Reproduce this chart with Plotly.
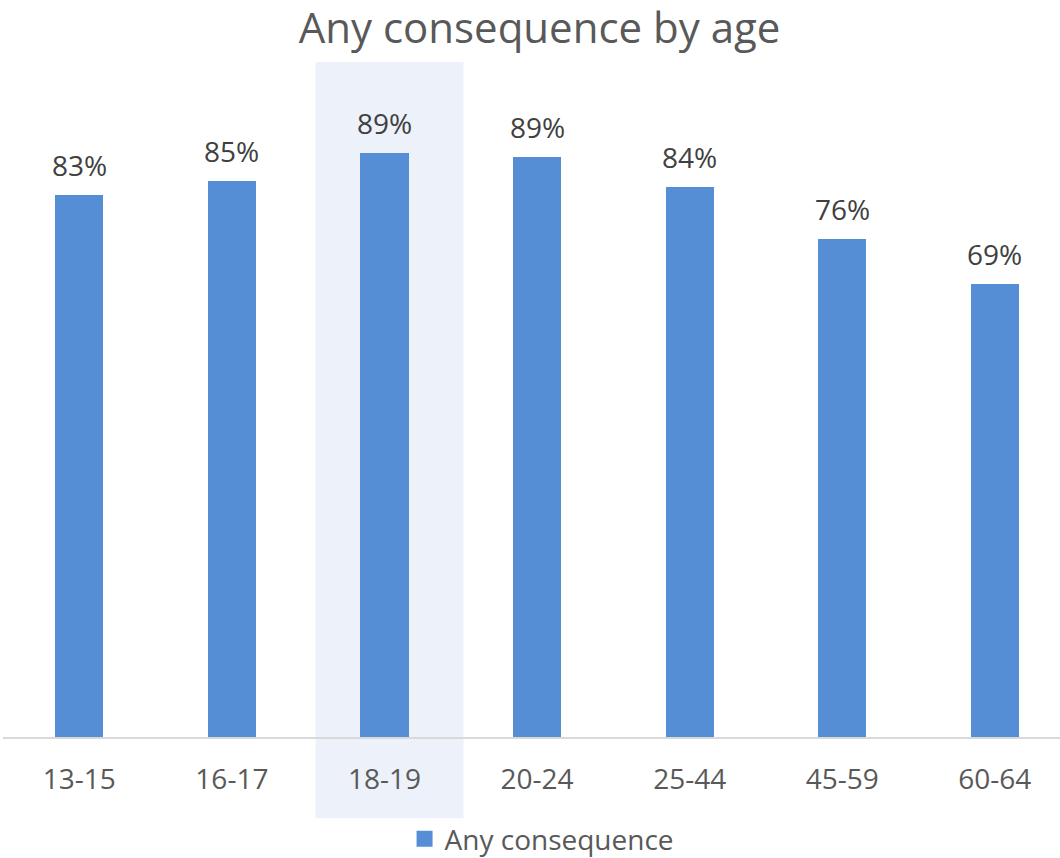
import plotly.graph_objects as go

# Share of respondents reporting any consequence, by age group
age_groups = ["13-15", "16-17", "18-19", "20-24", "25-44", "45-59", "60-64"]
any_consequence = [0.827, 0.849, 0.891, 0.886, 0.840, 0.760, 0.691]
highlight_group = "18-19"

BAR_COLOR = "#558ED5"
TEXT_COLOR = "#595959"
LABEL_COLOR = "#404040"
FONT = "Open Sans"

fig = go.Figure()

fig.add_trace(go.Bar(
    x=age_groups,
    y=any_consequence,
    width=0.315,
    marker=dict(color=BAR_COLOR, line=dict(width=0)),
    name="Any consequence",
    showlegend=False,
))

# Legend entry with a larger square swatch
fig.add_trace(go.Scatter(
    x=[age_groups[0]], y=[None],
    mode="markers",
    marker=dict(symbol="square", size=17, color=BAR_COLOR),
    name="Any consequence",
    showlegend=True,
))

# Percentage labels above the bars
for cat, val in zip(age_groups, any_consequence):
    fig.add_annotation(
        x=cat, y=val, xref="x", yref="y",
        text=f"{val:.0%}",
        showarrow=False,
        yanchor="bottom",
        yshift=9,
        font=dict(family=FONT, size=28, color=LABEL_COLOR),
    )

# Shaded band behind the highlighted age group
hi = age_groups.index(highlight_group)
fig.add_shape(
    type="rect", layer="below",
    xref="x", yref="paper",
    x0=hi - 0.452, x1=hi + 0.518,
    y0=-0.124, y1=1.0305,
    fillcolor="#EDF1F9", line=dict(width=0),
)

fig.update_layout(
    width=1060, height=858,
    margin=dict(l=3, r=0, t=82, b=121, autoexpand=False),
    paper_bgcolor="white",
    plot_bgcolor="rgba(0,0,0,0)",
    title=dict(
        text="Any consequence by age",
        x=0.509, xref="container", xanchor="center",
        y=1 - 28 / 858, yref="container", yanchor="middle",
        font=dict(family=FONT, size=42, color=TEXT_COLOR),
    ),
    font=dict(family=FONT, color=TEXT_COLOR),
    legend=dict(
        orientation="h",
        x=0.51, xref="paper", xanchor="center",
        y=(737 - 839) / 655, yanchor="middle",
        font=dict(family=FONT, size=28, color=TEXT_COLOR),
        bgcolor="rgba(0,0,0,0)",
    ),
    bargap=0,
    xaxis=dict(
        type="category",
        categoryorder="array", categoryarray=age_groups,
        range=[-0.5, 6.427],
        showline=True, linecolor="#D9D9D9", linewidth=1.5,
        showgrid=False, zeroline=False,
        ticks="",
        tickangle=0,
        ticklabelstandoff=17,
        tickfont=dict(family=FONT, size=28, color=TEXT_COLOR),
    ),
    yaxis=dict(
        range=[0, 1],
        visible=False,
        showgrid=False, zeroline=False,
    ),
)

fig.write_html("out.html")
